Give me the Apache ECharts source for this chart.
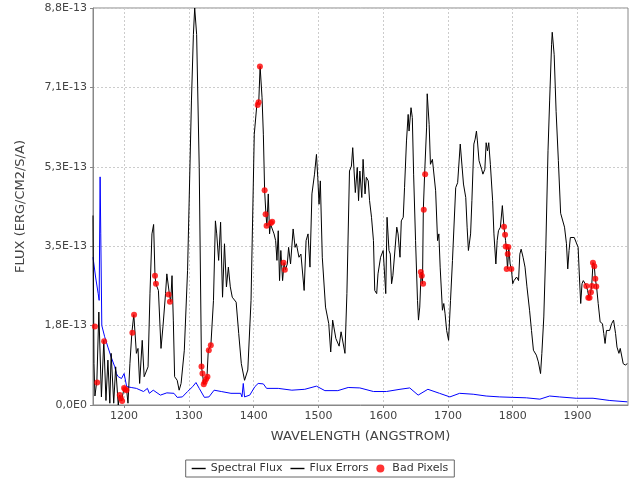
<!DOCTYPE html>
<html>
<head>
<meta charset="UTF-8">
<title>Spectrum</title>
<script src="https://cdn.jsdelivr.net/npm/echarts@6/dist/echarts.min.js"></script>
<style>html,body{margin:0;padding:0;background:#fff}</style>
</head>
<body>
<div id="chart" style="width:640px;height:480px;"></div>
<script>
// flux in units of 1E-13
var fluxWave = [1152,1153.5,1155,1158,1161,1165,1168.7,1172,1175,1178,1180,1184,1187,1191,1193,1196,1200,1204,1206,1209,1212,1215,1219,1221.5,1224,1228,1231,1234,1237,1240,1243,1245.6,1247.7,1249,1253,1257,1260,1264,1266,1270,1272,1274,1276,1278,1282,1285,1288,1293,1298,1304,1307,1309,1312,1316,1319.5,1321,1323,1326,1328,1330,1334,1338,1341,1343,1346,1349,1352,1355,1358,1361,1364,1367,1370,1373,1377,1381,1386,1391,1396,1401,1405,1408,1410,1413,1415,1417,1419,1420.5,1422.6,1424.6,1426,1429,1431.5,1434,1436,1438,1440,1442,1444.7,1447,1449,1452,1454,1457,1461,1464,1466,1470,1473,1478,1481,1484,1487,1490,1494,1497,1499,1501,1503,1506,1511,1514,1516,1519,1522,1525,1527,1530,1532,1535,1538,1541,1544,1548,1551,1553,1557,1560,1562,1564,1567,1569,1572,1574,1577,1579,1582,1585,1587,1590,1592,1596,1600,1604,1606,1609,1611,1613,1615,1618,1621,1623,1626,1628,1631,1633,1636,1638.6,1640,1643,1645,1647,1650,1653,1654.5,1656.5,1658.6,1660.7,1662,1664,1667,1668,1671,1673,1676,1678,1681,1684,1686,1688,1691.5,1693.6,1695.6,1698,1701,1704,1707,1709.5,1712,1715,1717,1719,1721,1724,1727.5,1729.6,1731.6,1735,1737,1740,1742,1744,1745.5,1748,1752,1754,1757,1759,1761,1763,1765.5,1769,1771,1774,1776,1778,1781,1784,1786.5,1789,1790,1792,1794,1796,1798,1800,1802,1806,1809,1811,1813,1816,1819,1822,1826,1829,1832,1836.5,1839.6,1843,1845,1848,1851,1854.5,1857,1860,1861,1864,1867,1870.5,1874,1876.5,1880,1883,1885,1887,1889,1891,1895,1898,1901,1903,1905,1907,1909,1911.5,1913.5,1915.6,1917.7,1920,1922,1924,1926,1927.5,1929.5,1932,1935,1938.6,1940.6,1942.6,1944.8,1947,1949.6,1952.7,1955.7,1958.8,1961,1964,1966,1968,1970.6,1973.8,1977];
var fluxVal = [4.22,0.92,0.2,0.55,2.07,0.18,1.44,0.1,1.0,0.04,1.15,0.04,0.85,0,0.22,0.1,0.37,0.33,0.04,0.92,1.61,2.01,1.15,1.26,0.48,1.44,0.63,0.59,0.85,2.49,3.81,4.02,2.88,2.70,2.55,1.26,1.74,2.48,2.92,2.46,2.30,2.88,1.89,0.63,0.55,0.33,0.48,1.22,3.0,6.77,8.25,8.84,8.25,5.29,0.85,0.70,0.46,0.52,0.63,1.22,1.33,2.33,4.10,3.81,3.22,4.07,2.40,3.59,2.63,3.07,2.63,2.40,2.40,2.29,1.59,0.92,0.55,0.78,2.33,6.03,6.69,6.77,7.54,6.84,6.03,4.77,4.25,3.99,4.70,3.81,4.03,4.07,3.81,3.66,3.22,3.88,2.77,3.44,2.77,3.17,3.01,3.14,3.51,3.14,3.92,3.51,3.59,3.29,3.36,2.55,3.66,3.81,3.07,4.70,5.14,5.58,5.07,4.47,4.99,3.29,2.18,1.96,1.81,1.18,1.89,1.92,1.48,1.52,1.31,1.63,1.66,1.15,2.48,5.21,5.32,5.73,4.73,5.29,4.55,5.21,4.62,5.47,4.70,5.07,4.99,4.55,4.18,3.66,2.55,2.48,2.92,3.29,3.44,2.48,4.18,3.44,3.36,2.70,2.88,2.92,3.96,3.81,3.29,4.10,4.18,4.84,5.88,6.47,6.10,6.62,6.40,5.14,3.66,2.33,1.89,2.18,2.96,2.70,4.35,5.14,6.17,6.93,6.25,5.36,5.47,5.44,4.77,3.66,3.81,3.07,2.11,2.26,2.03,1.66,1.44,2.33,3.22,4.03,4.84,4.95,4.92,5.81,5.81,4.92,4.62,3.96,3.44,3.81,4.55,5.81,5.92,6.10,5.88,5.44,5.25,5.14,5.25,5.84,5.66,5.84,5.36,4.55,3.81,3.14,3.66,3.88,3.96,4.44,3.96,3.66,3.51,3.03,3.51,3.14,3.03,2.70,2.77,2.85,2.77,3.36,3.47,3.29,3.07,2.63,2.11,1.66,1.22,1.11,0.96,0.70,1.15,1.96,3.44,5.66,6.77,8.02,8.30,7.80,6.54,5.44,4.27,4.25,3.96,3.59,3.03,3.44,3.73,3.70,3.73,3.77,3.51,2.85,2.26,2.70,2.77,2.81,2.66,2.55,2.39,2.48,2.66,3.17,3.09,2.81,2.63,2.26,1.85,1.81,1.59,1.37,1.66,1.70,1.66,1.81,1.89,1.59,1.29,1.15,1.26,1.29,0.92,0.89,0.92];
var errWave = [1152,1156,1160,1161.5,1163,1164,1165.6,1170,1175,1180,1185.6,1188,1191,1196,1200,1204,1211,1219,1230,1236,1239,1245,1256,1266,1277,1282,1290,1298,1306,1311,1316,1324,1331,1339,1350,1365,1380,1382,1384,1386,1394,1402,1407,1415,1420,1438,1459,1479,1497,1510,1530,1546,1564,1585,1605,1626,1641,1654,1669,1687,1703,1718,1739,1759,1780,1800,1821,1842,1857,1872,1898,1924,1950,1977];
var errVal = [3.29,2.85,2.48,2.33,5.08,3.81,1.77,1.52,1.29,1.07,0.85,0.70,0.63,0.59,0.70,0.41,0.39,0.37,0.30,0.37,0.26,0.33,0.22,0.27,0.26,0.17,0.18,0.30,0.41,0.50,0.37,0.17,0.18,0.33,0.30,0.26,0.26,0.18,0.48,0.18,0.22,0.41,0.48,0.47,0.37,0.37,0.33,0.35,0.42,0.32,0.32,0.39,0.38,0.30,0.30,0.35,0.38,0.22,0.35,0.26,0.18,0.26,0.24,0.20,0.18,0.17,0.16,0.13,0.20,0.18,0.15,0.15,0.10,0.07];
var badWave = [1154.9,1158.5,1169.2,1193.3,1195,1197,1200,1201.5,1203.6,1212.8,1215.4,1247.7,1249.2,1268.7,1270.8,1319.5,1321,1323,1324.6,1326.7,1328.7,1330.8,1333.9,1406.2,1407.7,1409.7,1417,1418.5,1420,1426.7,1428.7,1446.2,1448.2,1658.1,1659.6,1661.7,1662.7,1664.8,1786.6,1788.2,1789.2,1793.3,1792.3,1790.7,1797.9,1913.6,1916.7,1918.7,1920.8,1922.3,1923.9,1925.9,1927.5,1929];
var badVal = [1.75,0.50,1.42,0.22,0.15,0.09,0.38,0.35,0.33,1.61,2.01,2.88,2.70,2.46,2.30,0.86,0.70,0.46,0.52,0.58,0.63,1.22,1.33,6.68,6.74,7.54,4.78,4.25,3.99,4.05,4.08,3.17,3.01,2.96,2.88,2.70,4.35,5.14,3.97,3.79,3.53,3.52,3.36,3.03,3.03,2.65,2.39,2.39,2.51,2.65,3.17,3.09,2.81,2.64];
var xTicks = [1200,1300,1400,1500,1600,1700,1800,1900];

function pairs(xs, ys) {
    return xs.map(function (x, i) { return [x, ys[i] * 1e-13]; });
}

var chart = echarts.init(document.getElementById('chart'));
var font = 'DejaVu Sans';
chart.setOption({
    animation: false,
    grid: { left: 93, right: 12, top: 8, bottom: 75, show: true, borderColor: '#888', borderWidth: 1 },
    legend: {
        bottom: 3, left: 'center',
        borderColor: '#666', borderWidth: 1, borderRadius: 0,
        padding: [3, 6], itemGap: 8, itemWidth: 14, itemHeight: 8,
        textStyle: { fontFamily: font, fontSize: 11, color: '#333' },
        data: [
            { name: 'Spectral Flux', icon: 'path://M0,0L10,0L10,1L0,1Z', itemStyle: { color: '#000' } },
            { name: 'Flux Errors', icon: 'path://M0,0L10,0L10,1L0,1Z', itemStyle: { color: '#000' } },
            { name: 'Bad Pixels', icon: 'circle', itemStyle: { color: '#f00' } }
        ]
    },
    xAxis: {
        type: 'value', min: 1152, max: 1978,
        name: 'WAVELENGTH (ANGSTROM)', nameLocation: 'middle', nameGap: 25,
        nameTextStyle: { fontFamily: font, fontSize: 13, color: '#444' },
        axisLine: { lineStyle: { color: '#888' } },
        axisTick: { customValues: xTicks, length: 3, lineStyle: { color: '#888' } },
        axisLabel: { customValues: xTicks, fontFamily: font, fontSize: 11, color: '#444', margin: 6,
            formatter: function (v) { return String(v); } },
        splitLine: { show: true, lineStyle: { color: '#ccc', type: [2, 2] } }
    },
    yAxis: {
        type: 'value', min: 0, max: 8.84e-13, interval: 1.768e-13,
        name: 'FLUX (ERG/CM2/S/A)', nameLocation: 'middle', nameGap: 66,
        nameTextStyle: { fontFamily: font, fontSize: 13, color: '#444' },
        axisLine: { show: true, lineStyle: { color: '#888' } },
        axisTick: { show: true, length: 3, lineStyle: { color: '#888' } },
        axisLabel: {
            fontFamily: font, fontSize: 11, color: '#444', margin: 6,
            formatter: function (v) {
                if (v === 0) return '0,0E0';
                return (v / 1e-13).toFixed(1).replace('.', ',') + 'E-13';
            }
        },
        splitLine: { show: true, lineStyle: { color: '#ccc', type: [2, 2] } }
    },
    series: [
        { name: 'Spectral Flux', type: 'line', symbol: 'none', data: pairs(fluxWave, fluxVal),
          lineStyle: { color: '#000', width: 1 }, itemStyle: { color: '#000' }, z: 3 },
        { name: 'Flux Errors', type: 'line', symbol: 'none', data: pairs(errWave, errVal),
          lineStyle: { color: '#00f', width: 1 }, itemStyle: { color: '#000' }, z: 2 },
        { name: 'Bad Pixels', type: 'scatter', symbolSize: 6, data: pairs(badWave, badVal),
          itemStyle: { color: '#f00' }, z: 4 }
    ]
});
</script>
</body>
</html>
